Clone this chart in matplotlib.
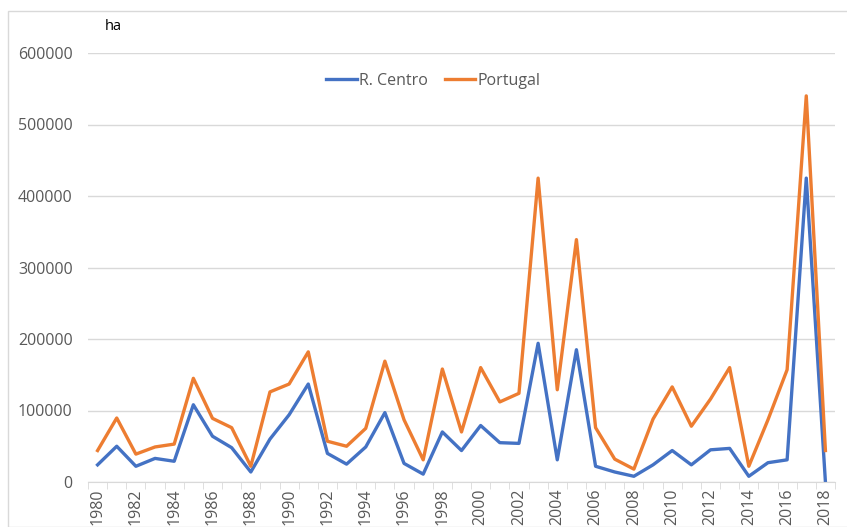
import matplotlib.pyplot as plt
from matplotlib.patches import Rectangle

years = list(range(1980, 2019))

centro = [24000, 50000, 22000, 33000, 29000, 108000, 64000, 48000, 14000, 60000,
          94000, 137000, 40000, 25000, 49000, 97000, 26000, 11000, 70000, 44000,
          79000, 55000, 54000, 194000, 31000, 185000, 22000, 14000, 8000, 24000,
          44000, 24000, 45000, 47000, 8000, 27000, 31000, 425000, 0]

portugal = [44000, 89500, 39000, 49000, 53000, 145000, 89000, 76000, 22000, 126000,
            137000, 182000, 57000, 50000, 75000, 169000, 87000, 31000, 158000, 70000,
            160000, 112000, 124000, 425000, 129000, 339000, 76000, 32000, 18000, 88000,
            133000, 78000, 116000, 160000, 22000, 87000, 157000, 540000, 44000]

plt.rcParams['font.family'] = ['Open Sans', 'DejaVu Sans']
gray = '#595959'

fig = plt.figure(figsize=(8.47, 5.27), dpi=100)
ax = fig.add_axes([88 / 847, 45 / 527, (835 - 88) / 847, (482 - 53) / 527])

x = list(range(len(years)))
ax.plot(x, centro, color='#4472C4', lw=2.4, label='R. Centro', solid_joinstyle='round')
ax.plot(x, portugal, color='#ED7D31', lw=2.4, label='Portugal', solid_joinstyle='round')

ax.set_xlim(-0.5, len(years) - 0.5)
ax.set_ylim(0, 600000)
ax.set_yticks(range(0, 600001, 100000))
ax.set_yticklabels([str(v) for v in range(0, 600001, 100000)], fontsize=11.5, color=gray)
ax.grid(axis='y', color='#D9D9D9', lw=1)
ax.set_axisbelow(True)

ax.set_xticks(x[::2])
ax.set_xticklabels([str(y) for y in years[::2]], rotation=90, fontsize=11.5, color=gray)
ax.set_xticks([i - 0.5 for i in range(len(years) + 1)], minor=True)
ax.tick_params(axis='x', which='major', length=0, pad=5)
ax.tick_params(axis='x', which='minor', length=5, color='#D9D9D9')
ax.tick_params(axis='y', length=0, pad=11)

for s in ['top', 'right', 'left']:
    ax.spines[s].set_visible(False)
ax.spines['bottom'].set_color('#D9D9D9')

ax.legend(loc='center', bbox_to_anchor=(0.4625, 0.935), ncol=2, frameon=False,
          fontsize=11.5, labelcolor=gray, handlelength=1.9, handletextpad=0.15,
          columnspacing=1.05)

fig.text(105 / 847, 1 - 27 / 527, 'ha', fontsize=10.5, color='black', va='center', ha='left')

fig.patches.append(Rectangle((8 / 847, 0), 1, 1 - 11 / 527, transform=fig.transFigure,
                             fill=False, edgecolor='#D9D9D9', lw=1))

fig.savefig('out.png', dpi=100)
